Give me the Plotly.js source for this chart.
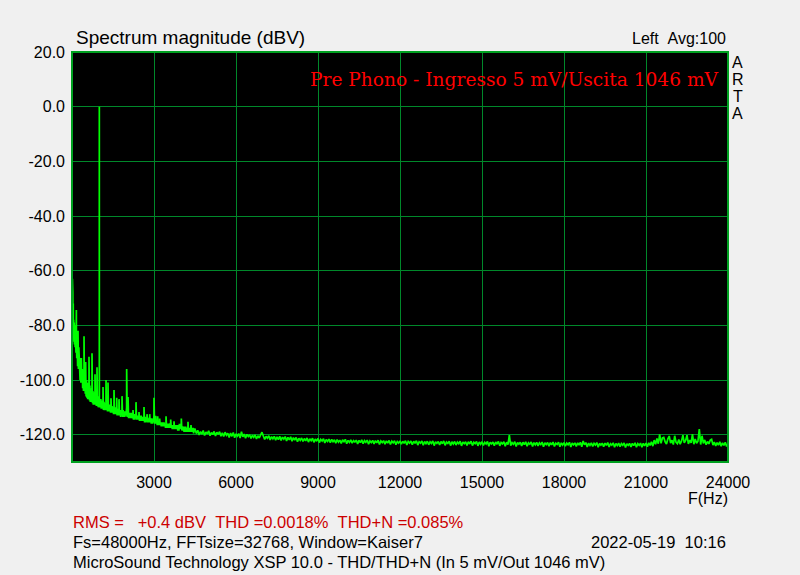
<!DOCTYPE html>
<html><head><meta charset="utf-8">
<script src="https://cdn.plot.ly/plotly-3.0.1.min.js"></script>
<style>html,body{margin:0;padding:0;background:#f0f0f0;overflow:hidden;} #chart{width:800px;height:575px;}</style>
</head><body><div id="chart"></div>
<script>
// Low-frequency part of the spectrum: [frequency Hz, level dBV]
const lowSpectrum = [
 [2,-66],[8,-80],[15,-63],[22,-79],[30,-68],[38,-82],[45,-72],[52,-84],[60,-78],[70,-86],[80,-79],[90,-87],[100,-80],
 [115,-88],[130,-82],[145,-90],[158,-85],[160,-74.4],[162,-86],[175,-92],[190,-84],[205,-95],[218,-88],[220,-82],[222,-89],
 [235,-96],[250,-88],[265,-98],[280,-90],[295,-100],[310,-92],[325,-101],[341,-96],[343,-92],[345,-97],[360,-101],[375,-96],
 [390,-103],[405,-97],[420,-104],[438,-99],[440,-84],[442,-100],[455,-104],[470,-99],[485,-105],[498,-101],[500,-93.4],[502,-102],
 [515,-106],[530,-100],[545,-106.5],[560,-101],[575,-107],[590,-102],[605,-107],[620,-103],[622,-91.5],[624,-104],[640,-107.5],
 [655,-102],[670,-108],[685,-103],[700,-108],[715,-104],[730,-105],[732,-90.2],[734,-106],[750,-108.5],[765,-104],[780,-109],
 [800,-104.5],[815,-109],[830,-105],[840,-106],[842,-97.9],[844,-107],[860,-109],[875,-105],[890,-109.5],[913,-106],[915,-95.3],
 [917,-107],[930,-109.5],[945,-106],[960,-110],[975,-106],[990,-108],[999,-110],[1000,0],[1001,-110],[1012,-107],[1023,-108],
 [1025,-96],[1027,-109],[1040,-110],[1055,-107],[1070,-110.5],[1085,-107.5],[1100,-110.5],[1115,-108],[1133,-109],[1135,-102.6],
 [1137,-110],[1150,-111],[1170,-108],[1190,-111],[1210,-108.5],[1230,-111],[1243,-109],[1245,-100],[1247,-110],[1260,-111],
 [1280,-108.5],[1300,-111.5],[1315,-109],[1317,-100.9],[1319,-110],[1335,-111.5],[1355,-109],[1375,-111.5],[1395,-109],
 [1410,-112],[1425,-110],[1427,-106.7],[1429,-111],[1445,-112],[1465,-109.5],[1485,-112],[1505,-110],[1520,-112.5],[1535,-110],
 [1537,-103.7],[1539,-111],[1555,-112.5],[1575,-110],[1595,-112.5],[1615,-110],[1633,-111],[1635,-106.5],[1637,-112],
 [1650,-113],[1670,-110.5],[1690,-113],[1705,-110.5],[1718,-111],[1720,-107],[1722,-112],[1740,-113],[1760,-111],[1780,-113.5],
 [1800,-111],[1815,-113],[1828,-111],[1830,-105.9],[1832,-112],[1850,-113.5],[1870,-111],[1890,-113.5],[1910,-111.5],
 [1930,-113.5],[1950,-111.5],[1975,-113],[1998,-110],[2000,-96],[2002,-111],[2020,-113.5],[2035,-112],[2048,-112],[2050,-106.2],
 [2052,-113],[2070,-114],[2090,-112],[2110,-114],[2130,-112],[2150,-114],[2170,-112],[2190,-114],[2210,-112.5],[2230,-113],
 [2232,-111],[2234,-114],[2250,-114.5],[2270,-112.5],[2290,-114.5],[2310,-112.5],[2325,-114],[2340,-112],[2342,-108.1],
 [2344,-113],[2360,-114.5],[2380,-113],[2400,-114.5],[2420,-113],[2435,-114.5],[2449,-113],[2451,-111.7],[2453,-114],
 [2470,-115],[2490,-113],[2510,-115],[2530,-113],[2550,-115],[2570,-113.5],[2590,-115],[2610,-113.5],[2632,-114],[2634,-109.9],
 [2636,-115],[2655,-115.5],[2675,-113.5],[2695,-115.5],[2715,-114],[2742,-114],[2744,-112.5],[2746,-115],[2765,-115.5],
 [2785,-114],[2805,-115.5],[2825,-114],[2841,-114],[2843,-112.5],[2845,-115],[2860,-115.5],[2880,-114],[2900,-116],[2920,-114],
 [2940,-116],[2960,-114.5],[2980,-115.5],[2998,-113],[3000,-106.5],[3002,-114],[3020,-116],[3040,-114.5],[3060,-115],
 [3062,-113.1],[3064,-116],[3080,-116],[3100,-115],[3118,-116.5],[3133,-115],[3135,-113.3],[3137,-116],[3150,-116.5],
 [3170,-115],[3190,-116.5],[3206,-115],[3208,-114.1],[3210,-116],[3225,-116.5],[3245,-115.5],[3265,-117],[3285,-115.5],
 [3305,-117],[3325,-115.5],[3345,-117],[3365,-115.5],[3385,-117],[3405,-116],[3422,-117.5],[3438,-116],[3440,-113.3],[3442,-117],
 [3460,-117.5],[3480,-116],[3500,-117.5],[3520,-116],[3540,-117.5],[3560,-116],[3580,-117.5],[3595,-116],[3609,-116],
 [3611,-114.5],[3613,-117],[3630,-117.5],[3650,-116.5],[3670,-118],[3690,-116.5],[3710,-118],[3730,-116.5],[3732,-115.1],
 [3734,-117.5],[3750,-118],[3770,-116.5],[3790,-118],[3810,-116.5],[3830,-118],[3850,-116.5],[3870,-118.5],[3890,-116.5],
 [3910,-118.5],[3930,-116],[3950,-118],[3970,-116.5],[3998,-116],[4000,-114.1],[4002,-117],[4020,-118.5],[4040,-117],
 [4060,-118.5],[4080,-117],[4100,-119],[4120,-117],[4140,-119],[4160,-117],[4180,-119],[4200,-117.5],[4222,-119],[4242,-117],
 [4244,-115.3],[4246,-118],[4260,-119],[4280,-117.5],[4300,-119],[4320,-117.5],[4338,-119],[4352,-117],[4354,-116.5],
 [4356,-118],[4370,-119],[4390,-117.5],[4410,-119],[4430,-117.5],[4450,-119.5],[4470,-118]
];

// Upper part of the spectrum: levels (dBV) at bins from 4500 Hz in 50 Hz steps (one row = 1000 Hz)
const highStartHz = 4500;
const highStepHz = 50;
const highLevels = [
 -118.0,-119.6,-118.4,-120.1,-118.9,-119.8,-118.5,-120.3,-119.0,-119.7,-118.6,-120.4,-119.2,-120.0,-118.8,-120.5,-119.1,-119.9,-118.9,-120.6,
 -119.3,-120.7,-119.1,-120.2,-119.5,-121.0,-119.4,-120.6,-119.2,-121.1,-119.7,-120.5,-119.6,-121.2,-118.9,-120.8,-119.8,-121.3,-119.9,-120.7,
 -120.0,-121.4,-120.2,-121.0,-120.1,-121.6,-120.4,-121.2,-120.3,-119.1,-120.5,-121.7,-120.6,-121.3,-120.4,-121.9,-120.7,-121.5,-120.6,-122.0,
 -120.8,-121.8,-120.6,-122.1,-120.9,-121.6,-120.7,-122.3,-121.0,-121.9,-120.8,-122.4,-121.1,-122.0,-121.0,-122.6,-121.3,-122.1,-121.2,-122.5,
 -121.4,-122.3,-121.2,-122.7,-121.5,-122.2,-121.3,-122.8,-121.6,-122.4,-121.4,-122.9,-121.7,-122.3,-121.5,-123.0,-121.8,-122.5,-121.6,-122.9,
 -121.7,-122.6,-121.9,-123.1,-121.8,-122.7,-122.0,-123.2,-121.9,-122.6,-121.7,-123.3,-122.1,-122.8,-121.9,-123.1,-122.2,-122.7,-122.0,-123.4,
 -122.1,-122.9,-121.9,-123.3,-122.2,-122.8,-122.0,-123.5,-122.3,-122.9,-122.1,-123.4,-122.2,-123.0,-122.0,-123.6,-122.3,-122.9,-122.2,-123.5,
 -122.3,-123.1,-122.1,-123.6,-122.4,-123.0,-122.2,-123.7,-122.5,-123.1,-122.3,-123.5,-122.4,-123.2,-122.2,-123.8,-122.5,-123.1,-122.3,-123.7,
 -122.4,-123.2,-122.2,-123.8,-122.6,-123.1,-122.3,-123.9,-122.5,-123.3,-122.4,-123.7,-122.6,-123.2,-122.3,-124.0,-122.6,-123.2,-122.5,-123.8,
 -122.5,-123.3,-122.3,-123.9,-122.7,-123.2,-122.4,-124.0,-122.6,-123.4,-122.5,-123.8,-122.7,-123.3,-122.4,-124.1,-122.7,-123.3,-122.6,-123.9,
 -122.6,-123.4,-122.4,-124.0,-122.8,-123.3,-122.5,-124.1,-122.7,-123.5,-122.6,-123.9,-122.8,-123.4,-122.5,-124.2,-122.8,-123.4,-122.7,-124.0,
 -122.7,-123.5,-122.5,-124.1,-122.9,-123.4,-122.6,-124.2,-122.8,-123.6,-120.2,-124.0,-122.9,-123.5,-122.6,-124.3,-122.9,-123.5,-122.8,-124.1,
 -122.8,-123.6,-122.6,-124.2,-123.0,-123.5,-122.7,-124.3,-122.9,-123.7,-122.8,-124.1,-123.0,-123.6,-122.7,-124.4,-123.0,-123.6,-122.9,-124.2,
 -122.9,-123.7,-122.7,-124.3,-123.1,-123.6,-122.8,-124.4,-123.0,-123.8,-122.9,-124.2,-123.1,-123.7,-122.8,-124.5,-123.1,-123.7,-123.0,-124.3,
 -123.0,-123.8,-122.8,-124.4,-122.3,-123.7,-122.9,-124.5,-123.1,-123.9,-123.0,-124.3,-123.2,-123.8,-122.9,-124.6,-123.2,-123.8,-123.1,-124.4,
 -123.1,-123.9,-122.9,-124.5,-123.3,-123.8,-123.0,-124.6,-123.2,-124.0,-123.1,-124.4,-123.3,-123.9,-123.0,-124.7,-123.3,-123.9,-123.2,-124.5,
 -123.2,-124.0,-123.0,-124.6,-123.3,-123.9,-123.1,-124.6,-123.2,-124.1,-123.1,-124.4,-123.0,-123.9,-122.6,-124.2,-122.0,-123.5,-121.4,-123.3,
 -119.9,-123.2,-121.2,-121.0,-122.6,-123.4,-121.5,-120.5,-123.1,-122.0,-123.6,-120.4,-122.8,-123.3,-121.8,-123.5,-122.3,-120.2,-123.0,-122.1,
 -120.2,-123.4,-122.0,-123.0,-119.8,-123.5,-121.6,-123.1,-122.4,-118.0,-123.6,-120.4,-123.2,-121.9,-123.7,-122.5,-123.4,-122.0,-121.7,-123.8,
 -122.7,-124.1,-122.9,-123.8,-122.6,-124.2,-123.0,-123.9,-122.8,-124.3,-123.2
];

const xTickVals = [3000, 6000, 9000, 12000, 15000, 18000, 21000, 24000];
const xTickText = ['3000', '6000', '9000', '12000', '15000', '18000', '21000', '24000'];
const yTickVals = [20, 0, -20, -40, -60, -80, -100, -120];
const yTickText = ['20.0', '0.0', '-20.0', '-40.0', '-60.0', '-80.0', '-100.0', '-120.0'];

const chartTitle = 'Spectrum magnitude (dBV)';
const channelText = 'Left\u00a0\u00a0Avg:100';
const plotNote = 'Pre Phono - Ingresso 5 mV/Uscita 1046 mV';
const resultsLine = 'RMS =\u00a0\u00a0\u00a0+0.4 dBV\u00a0\u00a0THD =0.0018%\u00a0\u00a0THD+N =0.085%';
const setupLine = 'Fs=48000Hz, FFTsize=32768, Window=Kaiser7';
const dateLine = '2022-05-19\u00a0\u00a010:16';
const deviceLine = 'MicroSound Technology XSP 10.0 - THD/THD+N (In 5 mV/Out 1046 mV)';
const brandLetters = ['A', 'R', 'T', 'A'];

const freq = lowSpectrum.map(p => p[0]).concat(highLevels.map((_, i) => highStartHz + i * highStepHz));
const level = lowSpectrum.map(p => p[1]).concat(highLevels);

const W = 800, H = 575, L = 72, R = 72, T = 52, B = 113;
const pw = W - L - R, ph = H - T - B;
const px = X => (X - L) / pw;
const py = Y => (H - B - Y) / ph;

const sans = 'Liberation Sans, Arial, sans-serif';
const annotations = [
  {text: chartTitle, x: px(74), y: py(38), xanchor: 'left', yanchor: 'middle', font: {size: 19, color: '#000'}},
  {text: channelText, x: px(728), y: py(39), xanchor: 'right', yanchor: 'middle', font: {size: 16, color: '#000'}},
  {text: plotNote, x: px(721), y: py(80), xanchor: 'right', yanchor: 'middle', font: {size: 18.6, color: '#ff0000', family: 'DejaVu Serif, serif'}},
  {text: 'F(Hz)', x: px(708), y: py(498), xanchor: 'center', yanchor: 'middle', font: {size: 16, color: '#000'}},
  {text: resultsLine, x: px(71), y: py(522), xanchor: 'left', yanchor: 'middle', font: {size: 16.5, color: '#cc0000'}},
  {text: setupLine, x: px(71), y: py(542), xanchor: 'left', yanchor: 'middle', font: {size: 16.5, color: '#000'}},
  {text: dateLine, x: px(728), y: py(542), xanchor: 'right', yanchor: 'middle', font: {size: 16.5, color: '#000'}},
  {text: deviceLine, x: px(71), y: py(562), xanchor: 'left', yanchor: 'middle', font: {size: 16.5, color: '#000'}}
];
brandLetters.forEach((ch, i) => {
  annotations.push({text: ch, x: px(738), y: py(62 + i * 17.2), xanchor: 'center', yanchor: 'middle', font: {size: 16, color: '#000'}});
});
annotations.forEach(a => { a.xref = 'paper'; a.yref = 'paper'; a.showarrow = false; });

const gridColor = '#00882a';
const layout = {
  width: W, height: H,
  margin: {l: L, r: R, t: T, b: B, pad: 0},
  paper_bgcolor: '#f0f0f0',
  plot_bgcolor: '#000000',
  font: {family: sans, size: 16, color: '#000'},
  showlegend: false,
  hovermode: false,
  xaxis: {
    range: [0, 24000], tickvals: xTickVals, ticktext: xTickText,
    showgrid: true, gridcolor: gridColor, gridwidth: 1,
    zeroline: false, showline: false, ticks: '', ticklabelstandoff: 9,
    tickfont: {size: 16, color: '#000'}, fixedrange: true
  },
  yaxis: {
    range: [-130, 20], tickvals: yTickVals, ticktext: yTickText,
    showgrid: true, gridcolor: gridColor, gridwidth: 1,
    zeroline: false, showline: false, ticks: '', ticklabelstandoff: 6,
    tickfont: {size: 16, color: '#000'}, fixedrange: true
  },
  shapes: [
    {type: 'rect', xref: 'paper', yref: 'paper', x0: 0, x1: 1, y0: 0, y1: 1, line: {color: '#00a020', width: 2}, layer: 'above'}
  ],
  annotations: annotations
};

const traces = [{
  type: 'scatter', mode: 'lines', x: freq, y: level,
  line: {color: '#00ff00', width: 1.7}, hoverinfo: 'skip'
}];

Plotly.newPlot('chart', traces, layout, {displayModeBar: false, staticPlot: true});
</script>
</body></html>
